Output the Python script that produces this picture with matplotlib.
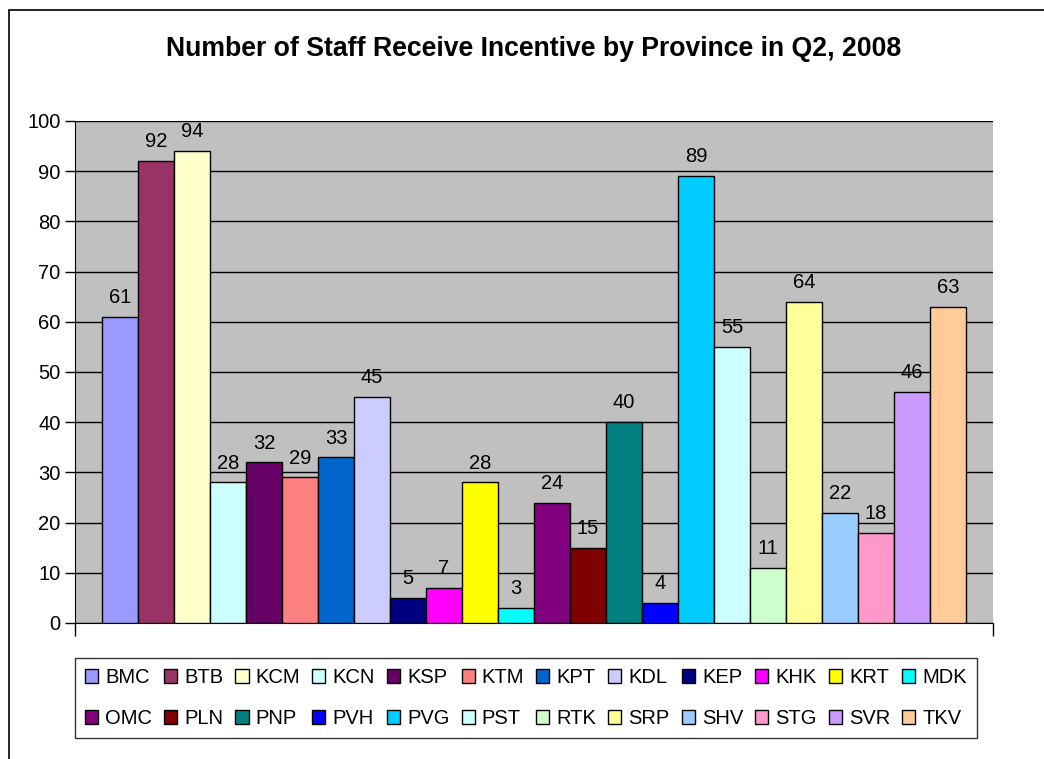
import matplotlib

matplotlib.use("Agg")
import matplotlib.pyplot as plt
from matplotlib.patches import Rectangle

provinces = ["BMC", "BTB", "KCM", "KCN", "KSP", "KTM", "KPT", "KDL", "KEP", "KHK", "KRT", "MDK",
             "OMC", "PLN", "PNP", "PVH", "PVG", "PST", "RTK", "SRP", "SHV", "STG", "SVR", "TKV"]
staff = [61, 92, 94, 28, 32, 29, 33, 45, 5, 7, 28, 3,
         24, 15, 40, 4, 89, 55, 11, 64, 22, 18, 46, 63]
colors = ["#9999FF", "#993366", "#FFFFCC", "#CCFFFF", "#660066", "#FF8080", "#0066CC", "#CCCCFF",
          "#000080", "#FF00FF", "#FFFF00", "#00FFFF", "#800080", "#800000", "#008080", "#0000FF",
          "#00CCFF", "#CCFFFF", "#CCFFCC", "#FFFF99", "#99CCFF", "#FF99CC", "#CC99FF", "#FFCC99"]

plt.rcParams["font.family"] = ["Liberation Sans", "DejaVu Sans"]

W, H = 1044, 759
fig = plt.figure(figsize=(W / 100, H / 100), dpi=100)

# outer chart border (only top and left visible in the reference)
fig.patches.append(Rectangle((9 / W, -0.1), 1.2, 1 - 10 / H + 0.1, transform=fig.transFigure,
                             fill=False, edgecolor="black", linewidth=1.2))

ax = fig.add_axes([75 / W, 1 - 623 / H, (993 - 75) / W, (623 - 121) / H])
ax.set_facecolor("#C0C0C0")

n = len(staff)
x = list(range(n))
bars = ax.bar(x, staff, width=1.0, color=colors, edgecolor="black", linewidth=1.0, zorder=3)
for xi, v in zip(x, staff):
    ax.annotate(str(v), (xi, v), xytext=(0, 7), textcoords="offset points",
                ha="center", va="bottom", fontsize=14.5, zorder=4)

# gap of 0.75 bar width on each side of the bar group
ax.set_xlim(-1.25, n + 0.25)
ax.set_ylim(0, 100)
ax.set_yticks(range(0, 101, 10))
ax.yaxis.grid(True, color="black", linewidth=1.0, zorder=0)
ax.set_axisbelow(True)
ax.set_xticks([-1.25, n + 0.25])
ax.set_xticklabels([])
ax.tick_params(axis="both", direction="out", length=7, width=1.0, labelsize=14.5, colors="black")
ax.tick_params(axis="x", length=9)
for side in ["top", "right"]:
    ax.spines[side].set_visible(False)

fig.text(534 / W, 1 - 49 / H, "Number of Staff Receive Incentive by Province in Q2, 2008",
         ha="center", va="center", fontsize=19.2, fontweight="bold")

# legend fills row by row in the reference; matplotlib fills column by column
half = n // 2
order = [i + r * half for i in range(half) for r in range(2)]
leg = fig.legend([bars[i] for i in order], [provinces[i] for i in order],
                 loc="center", bbox_to_anchor=(526 / W, 1 - 698 / H),
                 ncol=half, fontsize=14.5, frameon=True, fancybox=False, edgecolor="black",
                 handlelength=0.65, handleheight=0.65, handletextpad=0.35,
                 columnspacing=0.6, labelspacing=1.1, borderpad=0.5, borderaxespad=0)
leg.get_frame().set_linewidth(1.0)

fig.savefig("out.png", dpi=100)
